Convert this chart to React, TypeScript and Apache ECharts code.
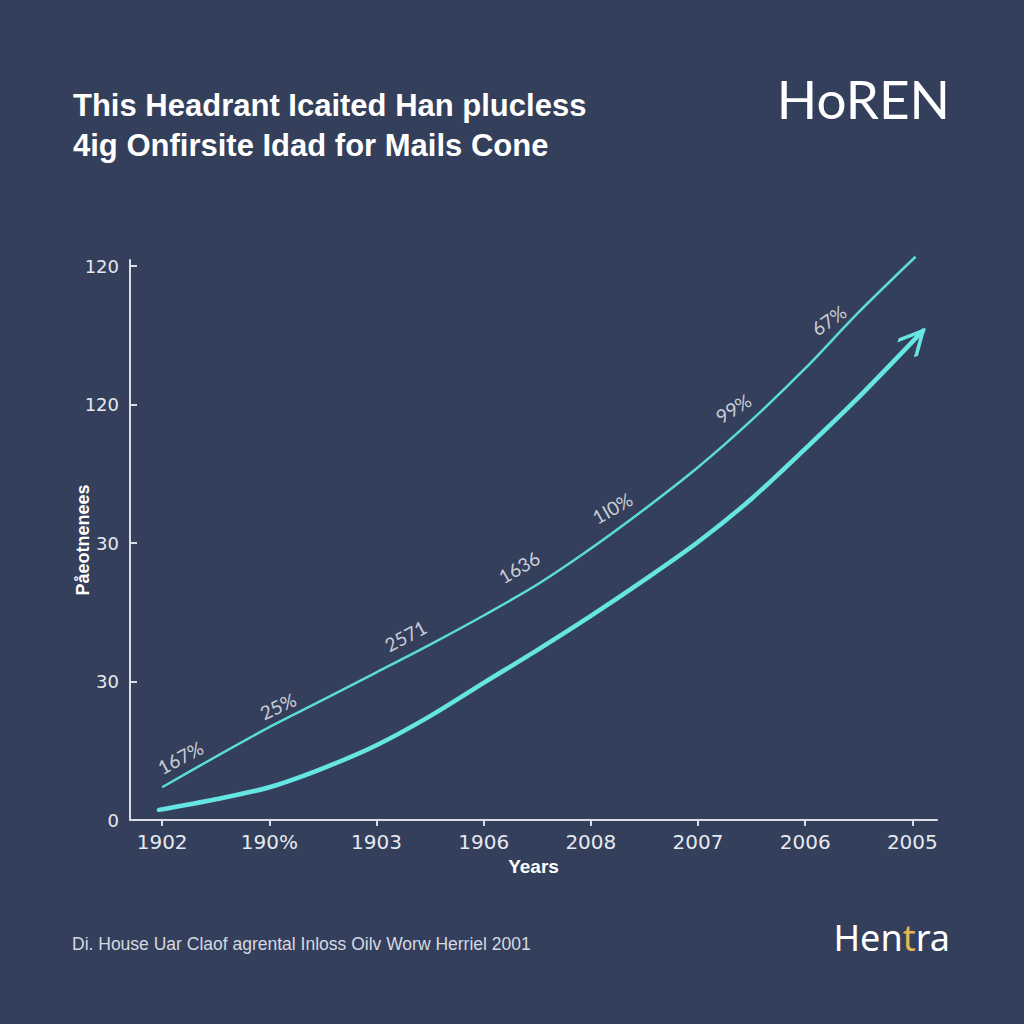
import React, { useEffect, useRef } from "react";
import * as echarts from "echarts";

const titleLines = ["This Headrant Icaited Han plucless", "4ig Onfirsite Idad for Mails Cone"];
const brandTop = "HoREN";
const footnote = "Di. House Uar Claof agrental Inloss Oilv Worw Herriel 2001";
const xAxisName = "Years";
const yAxisName = "Påeotnenees";

const xTickPositions = [0, 1, 2, 3, 4, 5, 6, 7];
const xTickLabels = ["1902", "190%", "1903", "1906", "2008", "2007", "2006", "2005"];
const yTickValues = [0, 30, 60, 90, 120];
const yTickLabels = ["0", "30", "30", "120", "120"];

const upperX = [0, 0.5, 1, 1.5, 2, 2.5, 3, 3.5, 4, 4.5, 5, 5.5, 6, 6.5, 7.03];
const upperY = [7.1, 13.7, 20.1, 26.0, 32.0, 38.0, 44.3, 51.0, 58.8, 67.3, 76.4, 86.6, 97.8, 110.0, 122];
const lowerX = [-0.03, 0.5, 1, 1.5, 2, 2.5, 3, 3.5, 4, 4.5, 5, 5.5, 6, 6.5, 7.1];
const lowerY = [2.2, 4.5, 7.1, 11.2, 16.2, 22.5, 29.7, 36.8, 44.2, 52.0, 60.2, 69.6, 80.4, 91.6, 106];

const pointLabelText = ["167%", "25%", "2571", "1636", "1I0%", "99%", "67%"];
const pointLabelX = [0.17, 1.08, 2.27, 3.33, 4.2, 5.33, 6.22];
const pointLabelY = [13.6, 24.7, 39.9, 54.8, 67.6, 89.2, 108.3];
const pointLabelAngle = [28, 25, 28, 30, 30, 32, 35];

const BG = "#343f5b";
const CYAN_THIN = "#5cdcd9";
const CYAN_THICK = "#66e6e2";
const AXIS = "#d9dde6";
const LABEL = "#e6e9ef";

export default function App() {
  const ref = useRef<HTMLDivElement>(null);
  useEffect(() => {
    document.body.style.margin = "0";
    const chart = echarts.init(ref.current!, null, { renderer: "svg" });
    const lowerData: any[] = lowerX.map((x, i) => [x, lowerY[i]]);
    const last = lowerData.length - 1;
    lowerData[last] = {
      value: lowerData[last],
      symbol: "path://M0,24 L12,0 L24,24 M12,-24",
      symbolSize: [24, 48],
      symbolRotate: -42,
      itemStyle: { color: "transparent", borderColor: CYAN_THICK, borderWidth: 4 },
    };
    chart.setOption({
      animation: false,
      backgroundColor: BG,
      title: {
        text: titleLines.join("\n"),
        left: 68,
        top: 80,
        textStyle: {
          color: "#ffffff",
          fontSize: 31,
          fontWeight: "bold",
          fontFamily: "Liberation Sans",
          lineHeight: 40,
        },
      },
      grid: { left: 130, right: 87, top: 260, bottom: 204, containLabel: false },
      xAxis: {
        type: "value",
        min: -0.3,
        max: 7.23,
        name: xAxisName,
        nameLocation: "middle",
        nameGap: 33,
        nameTextStyle: { color: "#ffffff", fontSize: 19, fontWeight: "bold", fontFamily: "Liberation Sans" },
        axisLine: { show: true, onZero: false, lineStyle: { color: AXIS, width: 2 } },
        axisTick: { show: true, customValues: xTickPositions, length: 6, lineStyle: { color: AXIS, width: 2 } },
        axisLabel: {
          customValues: xTickPositions,
          formatter: (v: number) => xTickLabels[Math.round(v)] ?? "",
          margin: 12,
          color: LABEL,
          fontSize: 20,
          fontFamily: "DejaVu Sans",
        },
        splitLine: { show: false },
      },
      yAxis: {
        type: "value",
        min: 0,
        max: 121.3,
        name: yAxisName,
        nameLocation: "middle",
        nameRotate: 90,
        nameGap: 38,
        nameMoveOverlap: false,
        nameTextStyle: { color: "#ffffff", fontSize: 18, fontWeight: "bold", fontFamily: "Liberation Sans" },
        axisLine: { show: true, onZero: false, lineStyle: { color: AXIS, width: 2 } },
        axisTick: { show: true, inside: true, customValues: yTickValues, length: 7, lineStyle: { color: AXIS, width: 2 } },
        axisLabel: {
          customValues: yTickValues,
          formatter: (v: number) => yTickLabels[yTickValues.indexOf(v)] ?? "",
          margin: 11,
          color: LABEL,
          fontSize: 18,
          fontFamily: "DejaVu Sans",
        },
        splitLine: { show: false },
      },
      series: [
        {
          type: "line",
          data: upperX.map((x, i) => [x, upperY[i]]),
          smooth: 0.3,
          symbol: "none",
          clip: false,
          lineStyle: { color: CYAN_THIN, width: 2.5 },
        },
        {
          type: "line",
          data: lowerData,
          smooth: 0.3,
          symbol: "none",
          clip: false,
          lineStyle: { color: CYAN_THICK, width: 4.5, cap: "round" },
        },
        {
          type: "scatter",
          silent: true,
          symbolSize: 1,
          itemStyle: { color: "transparent" },
          data: pointLabelX.map((x, i) => ({
            value: [x, pointLabelY[i]],
            label: { rotate: pointLabelAngle[i] },
          })),
          label: {
            show: true,
            position: "inside",
            formatter: (p: any) => pointLabelText[p.dataIndex],
            color: "#f2f4f8",
            fontSize: 19,
            fontFamily: "Lato",
          },
        },
      ],
      graphic: [
        {
          type: "text",
          right: 74,
          top: 72,
          style: { text: brandTop, fill: "#ffffff", font: "400 53px Lato" },
        },
        {
          type: "text",
          left: 72,
          top: 935,
          style: { text: footnote, fill: "#d5d9e1", font: "17.5px 'Liberation Sans'" },
        },
        {
          type: "text",
          right: 74,
          top: 919,
          style: {
            text: "{a|Hen}{b|t}{a|ra}",
            rich: {
              a: { fill: "#ffffff", fontSize: 36, fontFamily: "Noto Sans" },
              b: { fill: "#e6b652", fontSize: 36, fontFamily: "Noto Sans" },
            },
          },
        },
      ],
    });
    return () => chart.dispose();
  }, []);
  return <div ref={ref} style={{ width: 1024, height: 1024 }} />;
}
